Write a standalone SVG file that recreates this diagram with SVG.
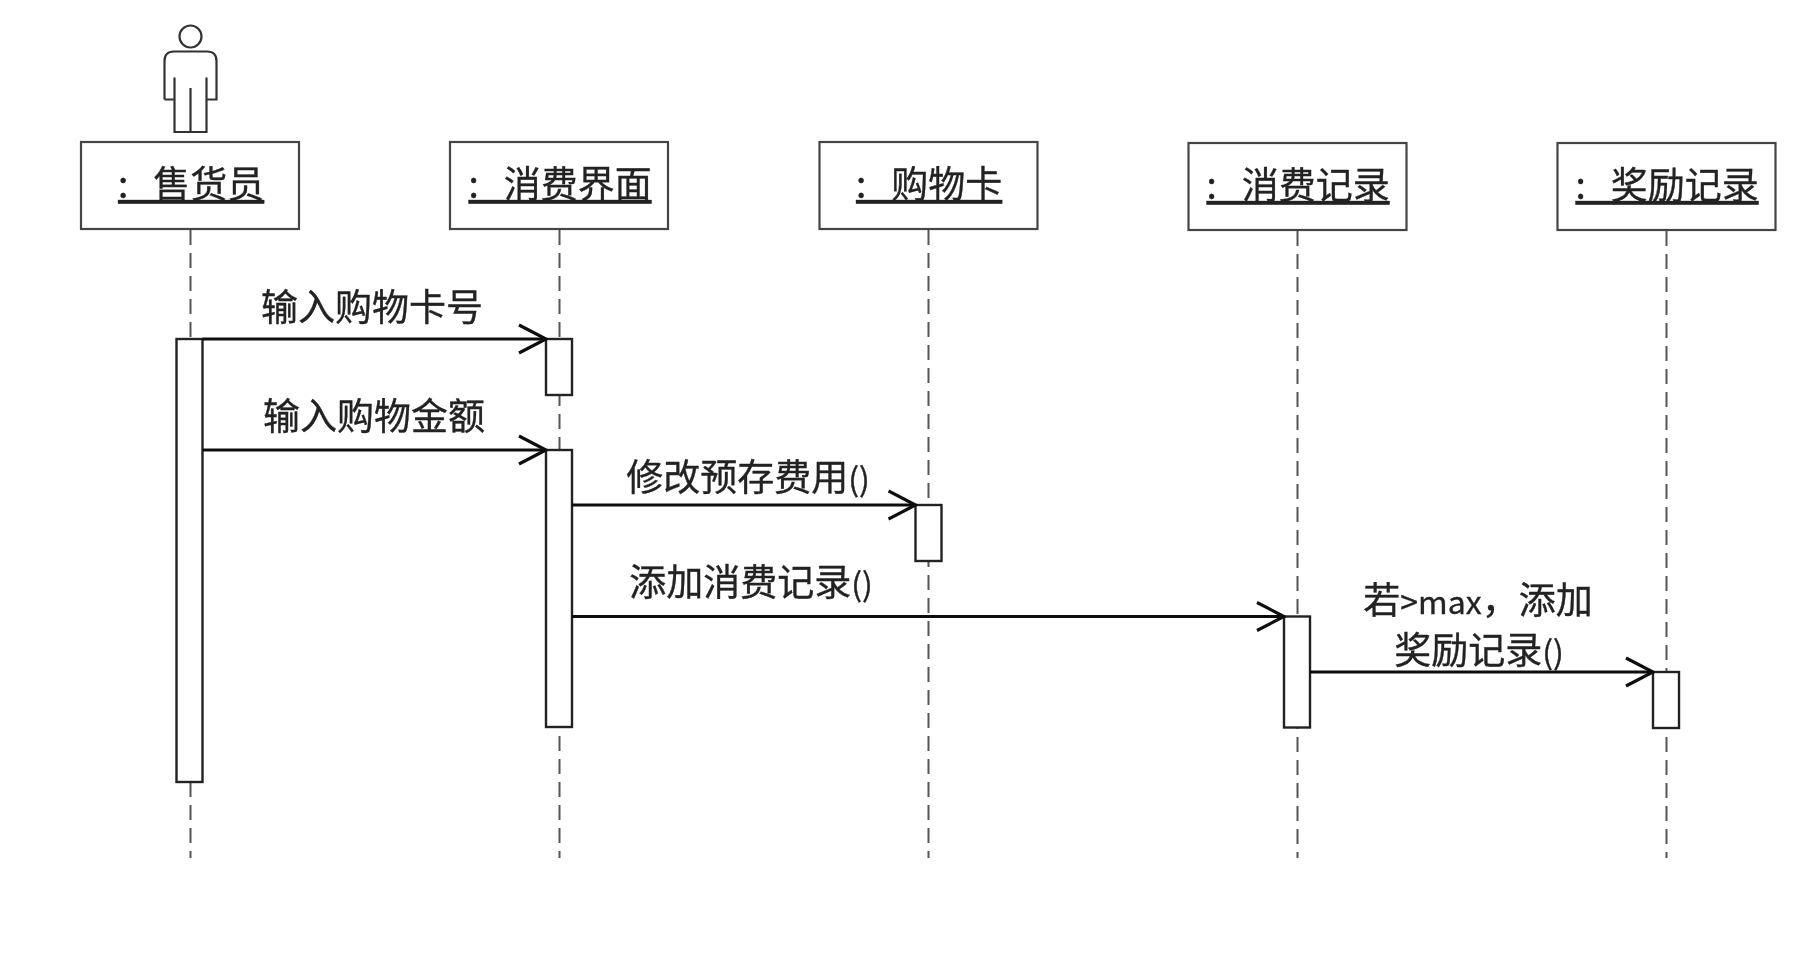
<svg xmlns="http://www.w3.org/2000/svg" width="1807" height="957" viewBox="0 0 1807 957">
<style>
.box{fill:#fff;stroke:#444;stroke-width:2.2}
.life{stroke:#555;stroke-width:2;stroke-dasharray:15 8;fill:none}
.act{fill:#fff;stroke:#222;stroke-width:2.4}
.msg{stroke:#111;stroke-width:3;fill:none}
.head{stroke:#111;stroke-width:3.2;fill:none}
.actor{fill:none;stroke:#333;stroke-width:2.2}
text{font-family:"Noto Sans CJK SC","Noto Sans",sans-serif;fill:#222;stroke:#222;stroke-width:.35}
.t{font-size:37px;text-decoration:underline;white-space:pre}
.l{font-size:37px;text-anchor:middle}
.s{font-size:32px}
</style>
<defs>
<marker id="arrow" viewBox="0 0 30 32" refX="28" refY="16" markerWidth="30" markerHeight="32" markerUnits="userSpaceOnUse" orient="auto"><path class="head" d="M1 2L28 16L1 30"/></marker>
<filter id="soft" x="0" y="0" width="100%" height="100%"><feGaussianBlur stdDeviation="0.45"/></filter>
</defs>
<g filter="url(#soft)">
<rect width="1807" height="957" fill="#fff"/>
<g id="lifelines">
<path class="life" d="M190.500 230V858"/><path class="life" d="M559.500 230V858"/><path class="life" d="M928.500 230V858"/><path class="life" d="M1297.500 231V858"/><path class="life" d="M1666.500 231V858"/>
</g>
<g id="actor" class="actor">
<circle cx="190.500" cy="36.500" r="11"/>
<path d="M164.500 99.500V61Q164.500 51.500 174 51.500H207Q216.500 51.500 216.500 61V99.500H206.500V77.500M206.500 99.500V132H174.500V77.500M174.500 99.500H164.500M190.500 88V132"/>
</g>
<g id="node-1"><rect class="box" x="81" y="142" width="218" height="87"/><text class="t" x="118" y="198">:   售货员</text></g>
<g id="node-2"><rect class="box" x="450" y="142" width="218" height="87"/><text class="t" x="468.500" y="198">:   消费界面</text></g>
<g id="node-3"><rect class="box" x="819.500" y="142" width="218" height="87"/><text class="t" x="856" y="198">:   购物卡</text></g>
<g id="node-4"><rect class="box" x="1188.500" y="143" width="218" height="87"/><text class="t" x="1206.500" y="199">:   消费记录</text></g>
<g id="node-5"><rect class="box" x="1557.500" y="143" width="218" height="87"/><text class="t" x="1575.500" y="199">:   奖励记录</text></g>
<g id="activations">
<rect class="act" x="176.500" y="339" width="26" height="443"/>
<rect class="act" x="546" y="339" width="26" height="56"/>
<rect class="act" x="546" y="450" width="26" height="277"/>
<rect class="act" x="915.500" y="505" width="26" height="56"/>
<rect class="act" x="1284" y="616.500" width="26" height="111"/>
<rect class="act" x="1653" y="672" width="26" height="56"/>
</g>
<g id="connectors">
<path class="msg" marker-end="url(#arrow)" d="M202.500 339H546"/>
<path class="msg" marker-end="url(#arrow)" d="M202.500 450H546"/>
<path class="msg" marker-end="url(#arrow)" d="M572 505H915.500"/>
<path class="msg" marker-end="url(#arrow)" d="M572 616.500H1284"/>
<path class="msg" marker-end="url(#arrow)" d="M1310 672H1653"/>
</g>
<g id="labels">
<text class="l" x="372" y="321">输入购物卡号</text>
<text class="l" x="374" y="430">输入购物金额</text>
<text class="l" x="748" y="491">修改预存费用<tspan class="s">()</tspan></text>
<text class="l" x="751" y="596">添加消费记录<tspan class="s">()</tspan></text>
<text class="l" x="1478" y="614">若<tspan class="s">&gt;max</tspan>，添加</text>
<text class="l" x="1479" y="664">奖励记录<tspan class="s">()</tspan></text>
</g>
</g>
</svg>
